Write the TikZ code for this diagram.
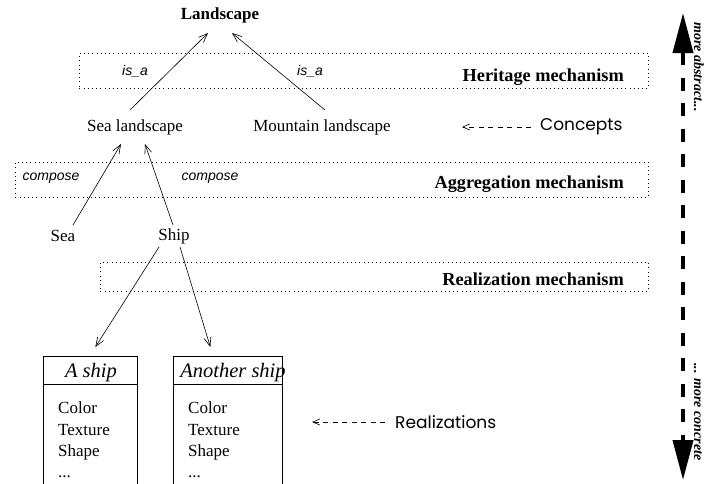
\documentclass[tikz,border=0pt]{standalone}
\usepackage{fontspec}
\setmainfont{Liberation Serif}
\setsansfont{Liberation Sans}
\newfontfamily\gothic{Poppins}
\usetikzlibrary{arrows.meta}
\begin{document}
\begin{tikzpicture}[x=1pt,y=-1pt,
  txt/.style={inner sep=0pt, font=\fontsize{17}{20}\selectfont},
  hdr/.style={inner sep=0pt, font=\fontsize{20.5}{24}\selectfont\itshape},
  mech/.style={inner sep=0pt, anchor=east, font=\fontsize{18.3}{22}\selectfont\bfseries},
  lbl/.style={inner sep=0pt, font=\fontsize{14}{17}\selectfont\sffamily\itshape},
  note/.style={inner sep=0pt, anchor=west, font=\fontsize{17}{20}\selectfont\gothic},
  mechbox/.style={draw, dash pattern=on 0.8pt off 3.4pt, line width=0.6pt, inner sep=0pt, anchor=north west},
  arr/.style={-{Straight Barb[length=9pt,width=7pt]}, line width=0.6pt},
  dasharr/.style={-{Straight Barb[length=7pt,width=6pt]}, line width=0.6pt, dash pattern=on 5pt off 4.5pt},
  shipbox/.style={draw, line width=0.7pt, inner sep=0pt, anchor=north west, minimum height=150pt},
  item/.style={inner sep=0pt, anchor=base west, font=\fontsize{17}{20}\selectfont},
  vtext/.style={inner sep=0pt, rotate=-90, font=\fontsize{14}{17}\selectfont\bfseries\itshape}
]
\useasboundingbox (0,0) rectangle (704,483);

% mechanism boxes
\node[mechbox, minimum width=569pt, minimum height=35pt] (herbox) at (79,53) {};
\node[mechbox, minimum width=633pt, minimum height=35pt] (aggbox) at (15,162) {};
\node[mechbox, minimum width=548pt, minimum height=29pt] (realbox) at (100,262) {};
\node[mech] (herlbl) at (624,77) {Heritage mechanism};
\node[mech] (agglbl) at (624,184) {Aggregation mechanism};
\node[mech] (reallbl) at (624,279) {Realization mechanism};

% concept nodes
\node[txt, font=\fontsize{17}{20}\selectfont\bfseries] (land) at (220,15) {Landscape};
\node[txt] (sealand) at (135,127) {Sea landscape};
\node[txt] (mountland) at (322,127) {Mountain landscape};
\node[txt] (sea) at (63,236) {Sea};
\node[txt] (ship) at (174,236) {Ship};

% edge labels
\node[lbl] (isa1) at (135,71) {is\_a};
\node[lbl] (isa2) at (310,71) {is\_a};
\node[lbl] (comp1) at (51,178) {compose};
\node[lbl] (comp2) at (210,178) {compose};

% arrows
\draw[arr] ([shift={(-5,-17)}]sealand.center) -- ([shift={(-12,18)}]land.center);
\draw[arr] ([shift={(3,-17)}]mountland.center) -- ([shift={(12,18)}]land.center);
\draw[arr] ([shift={(10,-11)}]sea.center) -- ([shift={(-14,17)}]sealand.center);
\draw[arr] ([shift={(-1,-11)}]ship.center) -- ([shift={(10,17)}]sealand.center);

% ship boxes
\node[shipbox, minimum width=94pt] (boxA) at (43,356) {};
\node[shipbox, minimum width=109pt] (boxB) at (173,356) {};
\draw[line width=0.7pt] ([yshift=-28pt]boxA.north west) -- ([yshift=-28pt]boxA.north east);
\draw[line width=0.7pt] ([yshift=-28pt]boxB.north west) -- ([yshift=-28pt]boxB.north east);
\node[hdr, anchor=base] (hA) at (91,377) {A ship};
\node[hdr, anchor=base] (hB) at (233,377) {Another ship};
\node[item] (a1) at (58,413) {Color};
\node[item] (a2) at (58,435) {Texture};
\node[item] (a3) at (58,456) {Shape};
\node[item] (a4) at (58,477) {...};
\node[item] (b1) at (188,413) {Color};
\node[item] (b2) at (188,435) {Texture};
\node[item] (b3) at (188,456) {Shape};
\node[item] (b4) at (188,477) {...};

\draw[arr] ([shift={(-15,11)}]ship.center) -- ([shift={(5,-9)}]boxA.north);
\draw[arr] ([shift={(6,11)}]ship.center) -- ([shift={(-17.5,-9)}]boxB.north);

% notes
\node[note] (concepts) at (540,127) {Concepts};
\coordinate (cTip) at (462,127);
\draw[dasharr] ([xshift=-9pt]concepts.west) -- (cTip);
\node[note] (realiz) at (395,422) {Realizations};
\coordinate (rTip) at (312,422);
\draw[dasharr] ([xshift=-10pt]realiz.west) -- (rTip);

% abstraction axis
\coordinate (axTop) at (683,13);
\coordinate (axBot) at (683,480);
\draw[line width=4pt, dash pattern=on 13pt off 12.5pt,
  {Triangle[length=40pt,width=20pt]}-{Triangle[length=40pt,width=20pt]}] (axTop) -- (axBot);
\node[vtext, anchor=base east] (abs) at (694,112) {more abstract...};
\node[vtext, anchor=base west] (conc) at (694,363) {... more concrete};
\end{tikzpicture}
\end{document}
